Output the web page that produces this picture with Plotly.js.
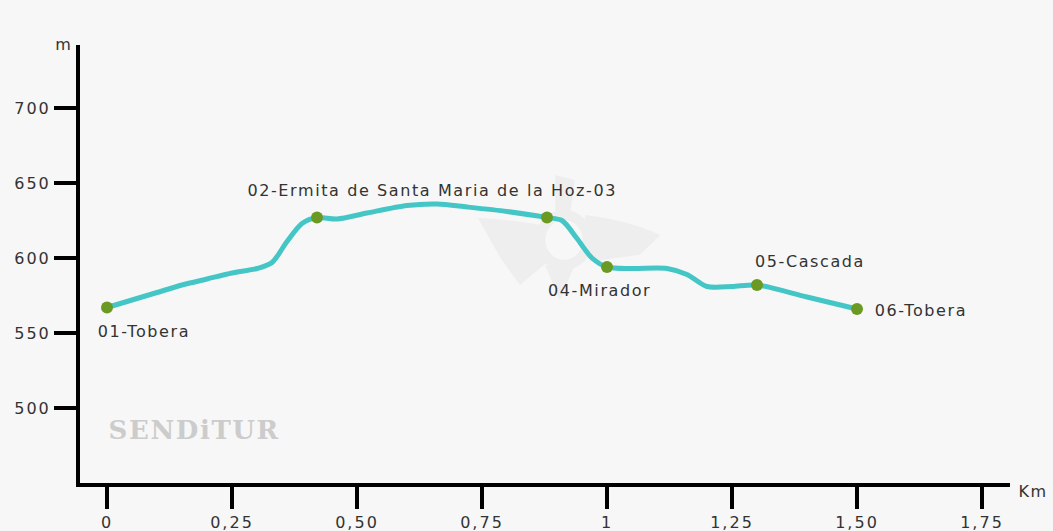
<!DOCTYPE html>
<html>
<head>
<meta charset="utf-8">
<script src="https://cdn.plot.ly/plotly-3.0.1.min.js"></script>
<style>
html,body{margin:0;padding:0;background:#f7f7f7;}
#chart{width:1053px;height:531px;}
#chart .annotation-text{letter-spacing:1.6px;}
#chart .xtick text, #chart .ytick text{letter-spacing:2px;}
</style>
</head>
<body>
<div id="chart"></div>
<script>
// Elevation profile (km, m)
const profileKm = [0, 0.05, 0.1, 0.15, 0.2, 0.25, 0.3, 0.33, 0.36, 0.39, 0.42, 0.46, 0.52, 0.6, 0.66, 0.72, 0.8, 0.88, 0.91, 0.94, 0.97, 1.0, 1.05, 1.12, 1.16, 1.2, 1.25, 1.3, 1.4, 1.5];
const profileM  = [567, 572, 577, 582, 586, 590, 593, 597, 611, 623, 627, 626, 630, 635, 636, 634, 631, 627, 625, 613, 600, 594, 593, 593, 589, 581, 581, 582, 574, 566];

// Waypoints
const wpKm = [0, 0.42, 0.88, 1.0, 1.3, 1.5];
const wpM  = [567, 627, 627, 594, 582, 566];
const wpNames = ["01-Tobera", "02-Ermita de Santa Maria de la Hoz", "03", "04-Mirador", "05-Cascada", "06-Tobera"];

const xTickVals = [0, 0.25, 0.5, 0.75, 1, 1.25, 1.5, 1.75];
const xTickText = ["0", "0,25", "0,50", "0,75", "1", "1,25", "1,50", "1,75"];
const yTickVals = [500, 550, 600, 650, 700];
const yTickText = ["500", "550", "600", "650", "700"];

const FONT = "'DejaVu Sans', Verdana, sans-serif";
const txtFont = {family: FONT, size: 16, color: "#333"};

const traces = [
  {x: profileKm, y: profileM, mode: "lines", type: "scatter",
   line: {color: "#45c6c6", width: 5, shape: "spline", smoothing: 0.8}, hoverinfo: "skip"},
  {x: wpKm, y: wpM, mode: "markers", type: "scatter",
   marker: {color: "#6a9a22", size: 12}, text: wpNames, hoverinfo: "text"}
];

const annotations = [
  {x: wpKm[0], y: wpM[0], text: wpNames[0], showarrow: false, xanchor: "left", yanchor: "top", xshift: -4, yshift: -12, font: txtFont},
  {x: (wpKm[1] + wpKm[2]) / 2, y: wpM[1], text: wpNames[1] + "-" + wpNames[2], showarrow: false, xanchor: "center", yanchor: "bottom", xshift: 0, yshift: 16, font: txtFont},
  {x: wpKm[3], y: wpM[3], text: wpNames[3], showarrow: false, xanchor: "center", yanchor: "top", xshift: -7, yshift: -12, font: txtFont},
  {x: wpKm[4], y: wpM[4], text: wpNames[4], showarrow: false, xanchor: "left", yanchor: "bottom", xshift: 4, yshift: 12, font: txtFont},
  {x: wpKm[5], y: wpM[5], text: wpNames[5], showarrow: false, xanchor: "left", yanchor: "middle", xshift: 23, yshift: -1, font: txtFont},
  {xref: "paper", yref: "paper", x: 0, y: 1, text: "m", showarrow: false, xanchor: "right", yanchor: "middle", xshift: -6, yshift: 1, font: {family: FONT, size: 16, color: "#333"}},
  {xref: "paper", yref: "paper", x: 1, y: 0, text: "Km", showarrow: false, xanchor: "left", yanchor: "middle", xshift: 8, yshift: -8, font: {family: FONT, size: 16, color: "#333"}},
  {xref: "paper", yref: "paper", x: 0.03, y: 0.12, text: "<b>SENDiTUR</b>", showarrow: false, xanchor: "left", yanchor: "middle", xshift: 5, font: {family: "'DejaVu Serif', serif", size: 26, color: "#cccccc"}}
];

// faint background logo (paper coordinates)
const logoColor = "#eeeeee";
const shapes = [
  {type: "path", xref: "paper", yref: "paper", layer: "below", fillcolor: logoColor, line: {width: 0},
   path: "M0.428,0.605 Q0.47,0.6 0.495,0.589 L0.503,0.505 L0.473,0.452 Q0.46,0.49 0.452,0.514 Z"},
  {type: "path", xref: "paper", yref: "paper", layer: "below", fillcolor: logoColor, line: {width: 0},
   path: "M0.543,0.612 Q0.59,0.6 0.624,0.566 L0.602,0.521 L0.548,0.505 Z"},
  {type: "path", xref: "paper", yref: "paper", layer: "below", fillcolor: logoColor, line: {width: 0},
   path: "M0.511,0.703 L0.532,0.692 L0.527,0.612 L0.511,0.612 Z"},
  {type: "path", xref: "paper", yref: "paper", layer: "below", fillcolor: logoColor, line: {width: 0},
   path: "M0.5,0.498 L0.532,0.498 L0.516,0.418 Z"},
  {type: "circle", xref: "paper", yref: "paper", layer: "below", x0: 0.495, x1: 0.546, y0: 0.498, y1: 0.612,
   line: {color: logoColor, width: 10}}
];

const layout = {
  width: 1053, height: 531,
  paper_bgcolor: "#f7f7f7", plot_bgcolor: "#f7f7f7",
  margin: {l: 80, r: 43, t: 45, b: 48},
  showlegend: false,
  xaxis: {range: [-0.054, 1.806], showgrid: false, zeroline: false, showline: true, linecolor: "#000", linewidth: 4,
          tickmode: "array", tickvals: xTickVals, ticktext: xTickText, ticks: "outside", ticklen: 22, tickwidth: 4, tickcolor: "#000",
          tickfont: {family: FONT, size: 16, color: "#333"}},
  yaxis: {range: [450, 742], showgrid: false, zeroline: false, showline: true, linecolor: "#000", linewidth: 4,
          tickmode: "array", tickvals: yTickVals, ticktext: yTickText, ticks: "outside", ticklen: 22, tickwidth: 4, tickcolor: "#000",
          tickfont: {family: FONT, size: 16, color: "#333"}},
  shapes: shapes,
  annotations: annotations
};

Plotly.newPlot("chart", traces, layout, {displayModeBar: false, staticPlot: true});
</script>
</body>
</html>
